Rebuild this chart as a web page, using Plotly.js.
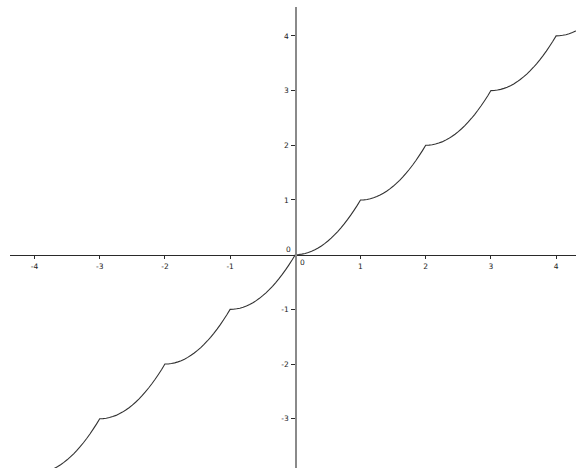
<!DOCTYPE html>
<html>
<head>
<meta charset="utf-8">
<script src="https://cdn.plot.ly/plotly-3.0.1.min.js"></script>
<style>html,body{margin:0;padding:0;background:#fff;}#chart{width:576px;height:468px;}</style>
</head>
<body>
<div id="chart"></div>
<script>
// Curve samples (x, y)
const xs = [
  -4.40,-4.35,-4.30,-4.25,-4.20,-4.15,-4.10,-4.05,
  -4.00,-3.95,-3.90,-3.85,-3.80,-3.75,-3.70,-3.65,-3.60,-3.55,-3.50,-3.45,-3.40,-3.35,-3.30,-3.25,-3.20,-3.15,-3.10,-3.05,
  -3.00,-2.95,-2.90,-2.85,-2.80,-2.75,-2.70,-2.65,-2.60,-2.55,-2.50,-2.45,-2.40,-2.35,-2.30,-2.25,-2.20,-2.15,-2.10,-2.05,
  -2.00,-1.95,-1.90,-1.85,-1.80,-1.75,-1.70,-1.65,-1.60,-1.55,-1.50,-1.45,-1.40,-1.35,-1.30,-1.25,-1.20,-1.15,-1.10,-1.05,
  -1.00,-0.95,-0.90,-0.85,-0.80,-0.75,-0.70,-0.65,-0.60,-0.55,-0.50,-0.45,-0.40,-0.35,-0.30,-0.25,-0.20,-0.15,-0.10,-0.05,
  0.00,0.05,0.10,0.15,0.20,0.25,0.30,0.35,0.40,0.45,0.50,0.55,0.60,0.65,0.70,0.75,0.80,0.85,0.90,0.95,
  1.00,1.05,1.10,1.15,1.20,1.25,1.30,1.35,1.40,1.45,1.50,1.55,1.60,1.65,1.70,1.75,1.80,1.85,1.90,1.95,
  2.00,2.05,2.10,2.15,2.20,2.25,2.30,2.35,2.40,2.45,2.50,2.55,2.60,2.65,2.70,2.75,2.80,2.85,2.90,2.95,
  3.00,3.05,3.10,3.15,3.20,3.25,3.30,3.35,3.40,3.45,3.50,3.55,3.60,3.65,3.70,3.75,3.80,3.85,3.90,3.95,
  4.00,4.05,4.10,4.15,4.20,4.25,4.30,4.35,4.40];
const ys = [
  -4.64,-4.578,-4.51,-4.438,-4.36,-4.278,-4.19,-4.098,
  -4.00,-3.998,-3.99,-3.978,-3.96,-3.938,-3.91,-3.878,-3.84,-3.798,-3.75,-3.698,-3.64,-3.578,-3.51,-3.438,-3.36,-3.278,-3.19,-3.098,
  -3.00,-2.998,-2.99,-2.978,-2.96,-2.938,-2.91,-2.878,-2.84,-2.798,-2.75,-2.698,-2.64,-2.578,-2.51,-2.438,-2.36,-2.278,-2.19,-2.098,
  -2.00,-1.998,-1.99,-1.978,-1.96,-1.938,-1.91,-1.878,-1.84,-1.798,-1.75,-1.698,-1.64,-1.578,-1.51,-1.438,-1.36,-1.278,-1.19,-1.098,
  -1.00,-0.998,-0.99,-0.978,-0.96,-0.938,-0.91,-0.878,-0.84,-0.798,-0.75,-0.698,-0.64,-0.578,-0.51,-0.438,-0.36,-0.278,-0.19,-0.098,
  0.00,0.002,0.01,0.022,0.04,0.062,0.09,0.122,0.16,0.202,0.25,0.302,0.36,0.422,0.49,0.562,0.64,0.722,0.81,0.902,
  1.00,1.002,1.01,1.022,1.04,1.062,1.09,1.122,1.16,1.202,1.25,1.302,1.36,1.422,1.49,1.562,1.64,1.722,1.81,1.902,
  2.00,2.002,2.01,2.022,2.04,2.062,2.09,2.122,2.16,2.202,2.25,2.302,2.36,2.422,2.49,2.562,2.64,2.722,2.81,2.902,
  3.00,3.002,3.01,3.022,3.04,3.062,3.09,3.122,3.16,3.202,3.25,3.302,3.36,3.422,3.49,3.562,3.64,3.722,3.81,3.902,
  4.00,4.002,4.01,4.022,4.04,4.062,4.09,4.122,4.16];

const xTicks = [-4,-3,-2,-1,1,2,3,4];
const xTickText = ['-4','-3','-2','-1','1','2','3','4'];
const yTicks = [-3,-2,-1,1,2,3,4];
const yTickText = ['-3','-2','-1','1','2','3','4'];
const originLabel = '0';

const xRange = [-4.376, 4.305];
const yRange = [-3.90, 4.528];

const font = {family: 'DejaVu Sans, sans-serif', size: 7.5, color: '#222'};

const trace = {
  x: xs, y: ys, type: 'scatter', mode: 'lines',
  line: {color: '#333', width: 1.1, simplify: false},
  hoverinfo: 'skip', showlegend: false
};

const layout = {
  width: 576, height: 468,
  margin: {l: 10, r: 0, t: 7, b: 0, pad: 0},
  paper_bgcolor: '#fff', plot_bgcolor: '#fff',
  showlegend: false,
  xaxis: {
    range: xRange, anchor: 'free',
    position: (0 - yRange[0]) / (yRange[1] - yRange[0]),
    showgrid: false, zeroline: false,
    showline: true, linecolor: '#2a2a2a', linewidth: 1,
    ticks: 'outside', ticklen: 3, tickwidth: 1, tickcolor: '#2a2a2a',
    tickmode: 'array', tickvals: xTicks, ticktext: xTickText,
    tickfont: font, ticklabelstandoff: 1
  },
  yaxis: {
    range: yRange, anchor: 'free',
    position: (0 - xRange[0]) / (xRange[1] - xRange[0]),
    showgrid: false, zeroline: false,
    showline: true, linecolor: '#8a8a8a', linewidth: 1.6,
    ticks: 'outside', ticklen: 4, tickwidth: 1, tickcolor: '#2a2a2a',
    tickmode: 'array', tickvals: yTicks, ticktext: yTickText,
    tickfont: font, ticklabelstandoff: 1
  },
  annotations: [
    {x: 0, y: 0, xref: 'x', yref: 'y', text: originLabel, showarrow: false,
     xanchor: 'center', yanchor: 'middle', xshift: -7, yshift: 5, font: font},
    {x: 0, y: 0, xref: 'x', yref: 'y', text: originLabel, showarrow: false,
     xanchor: 'center', yanchor: 'middle', xshift: 7, yshift: -7.5, font: font}
  ]
};

Plotly.newPlot('chart', [trace], layout, {displayModeBar: false, staticPlot: true});
</script>
</body>
</html>
